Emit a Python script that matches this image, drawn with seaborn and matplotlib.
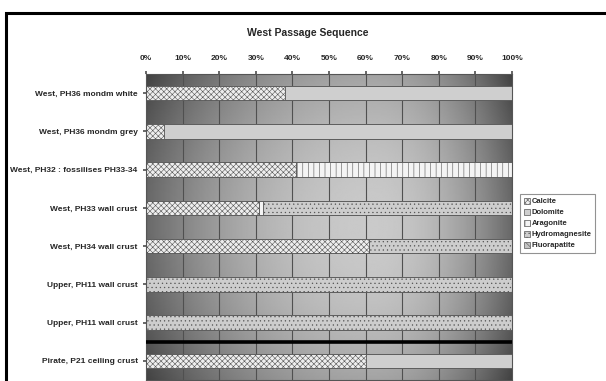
import numpy as np
import pandas as pd
import matplotlib
matplotlib.use('Agg')
import matplotlib.pyplot as plt
import seaborn as sns
from matplotlib.patches import Patch, Rectangle

categories = ["West, PH36 mondm white", "West, PH36 mondm grey",
              "West, PH32 : fossilises PH33-34", "West, PH33 wall crust",
              "West, PH34 wall crust", "Upper, PH11 wall crust",
              "Upper, PH11 wall crust", "Pirate, P21 ceiling crust"]
components = ["Calcite", "Dolomite", "Aragonite", "Hydromagnesite", "Fluorapatite"]
calcite = [38, 5, 41, 31, 61, 0, 0, 60]
dolomite = [62, 95, 0, 0, 0, 0, 0, 40]
aragonite = [0, 0, 59, 1, 0, 0, 0, 0]
hydromagnesite = [0, 0, 0, 68, 39, 100, 100, 0]
fluorapatite = [0, 0, 0, 0, 0, 0, 0, 0]
tick_labels = ["0%", "10%", "20%", "30%", "40%", "50%", "60%", "70%", "80%", "90%", "100%"]

sns.set_theme(style="white")
plt.rcParams['font.family'] = ['Liberation Sans Narrow', 'Liberation Sans', 'DejaVu Sans']
plt.rcParams['hatch.linewidth'] = 0.4

series = [calcite, dolomite, aragonite, hydromagnesite, fluorapatite]
styles = {
    "Calcite": dict(color="#eeeeee", hatch="xxxxxx", hc="#a2a2a2"),
    "Dolomite": dict(color="#cfcfcf", hatch="", hc="#b0b0b0"),
    "Aragonite": dict(color="#f4f4f4", hatch="|||", hc="#d2d2d2"),
    "Hydromagnesite": dict(color="#cdcdcd", hatch="....", hc="#b2b2b2"),
    "Fluorapatite": dict(color="#c4c4c4", hatch="\\\\\\\\", hc="#a8a8a8"),
}

rows = list(range(len(categories)))
df = pd.DataFrame({"row": rows})
cum = np.zeros(len(rows))
for name, vals in zip(components, series):
    cum = cum + np.array(vals, dtype=float)
    df[name] = cum.copy()

fig = plt.figure(figsize=(6.06, 3.81), dpi=100)
ax = fig.add_axes([146/606, 1/381, (512-146)/606, (380-74)/381])

# gradient background
xs = np.linspace(0, 1, 300)
ys = np.linspace(0, 1, 200)
X, Y = np.meshgrid(xs, ys)
dx = np.where(X < 0.62, (X - 0.62) / 0.62, (X - 0.62) / 0.38)
dy = (Y - 0.5) / 0.5
L = 0.79 - 0.38 * dx**2 - 0.15 * dy**2
ax.imshow(L, cmap='gray', vmin=0, vmax=1, extent=(0, 100, 7.5, -0.5),
          aspect='auto', zorder=0, interpolation='bilinear')

for name in components[::-1]:
    st = styles[name]
    plt.rcParams['hatch.color'] = st["hc"]
    sns.barplot(data=df, x=name, y="row", orient="h", order=rows,
                color=st["color"], saturation=1, width=0.38,
                edgecolor="#555555", linewidth=0.6, hatch=st["hatch"],
                ax=ax, zorder=2)

ax.set_xlim(0, 100)
ax.set_ylim(7.5, -0.5)
ax.axhline(6.5, color="black", lw=2.6, zorder=5)
ax.set_xticks(np.arange(0, 101, 10))
ax.set_xticklabels(tick_labels, fontsize=6, fontweight="bold")
ax.xaxis.tick_top()
ax.tick_params(axis='x', top=True, length=2, color="#555555", pad=7)
ax.set_yticks(rows)
ax.set_yticklabels(categories, fontsize=6, fontweight="bold")
ax.tick_params(axis='y', left=True, length=2, color="#555555", pad=4)
ax.set_xlabel("")
ax.set_ylabel("")
ax.grid(axis='x', color="#505050", lw=0.8)
ax.grid(axis='y', visible=False)
ax.set_axisbelow(True)
for sp in ax.spines.values():
    sp.set_color("#555555")
    sp.set_linewidth(0.8)

fig.text(308/606, 1 - 33/381, "West Passage Sequence", ha="center", va="center",
         fontsize=7.5, fontweight="bold")

handles = []
for name in components:
    st = styles[name]
    handles.append(Patch(facecolor=st["color"], edgecolor="#555555",
                         hatch=st["hatch"], linewidth=0.5, label=name))
leg = fig.legend(handles=handles, loc="upper left",
                 bbox_to_anchor=(520/606, 1 - 194/381), fontsize=5.5,
                 frameon=True, fancybox=False, handlelength=0.8,
                 handleheight=0.8, handletextpad=0.2, labelspacing=0.45,
                 borderpad=0.5, borderaxespad=0)
leg.get_frame().set_edgecolor("#777777")
leg.get_frame().set_linewidth(0.8)
for t in leg.get_texts():
    t.set_fontweight("bold")

fig.patches.append(Rectangle((6/606, -0.05), 1.2, 1.05 - 13/381,
                             transform=fig.transFigure, fill=False,
                             edgecolor="black", lw=2.2))

fig.savefig("out.png", dpi=100)
